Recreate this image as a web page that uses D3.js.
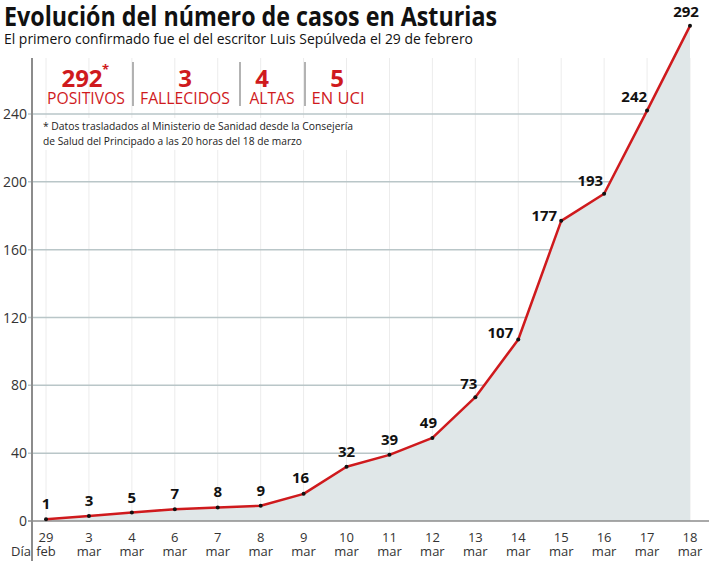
<!DOCTYPE html>
<html>
<head>
<meta charset="utf-8">
<script src="https://cdn.jsdelivr.net/npm/d3@7"></script>
<style>
  body { margin: 0; background: #fff; }
  text { font-family: "Open Sans", "Noto Sans", sans-serif; }
</style>
</head>
<body>
<script>
// data
days = ["29", "3", "4", "6", "7", "8", "9", "10", "11", "12", "13", "14", "15", "16", "17", "18"]
months = ["feb", "mar", "mar", "mar", "mar", "mar", "mar", "mar", "mar", "mar", "mar", "mar", "mar", "mar", "mar", "mar"]
cases = [1, 3, 5, 7, 8, 9, 16, 32, 39, 49, 73, 107, 177, 193, 242, 292]
yTicks = [0, 40, 80, 120, 160, 200, 240]
statNums = ["292", "3", "4", "5"]
statLabels = ["POSITIVOS", "FALLECIDOS", "ALTAS", "EN UCI"]

// label placement (style only): anchor + small offsets
labelPos = cases.map(function(d, i) {
    if (i == 10) return {a: "end", dx: 2, dy: -8}
    if (i == 11) return {a: "end", dx: -5, dy: -2}
    if (i == 12) return {a: "end", dx: -4, dy: 0}
    if (i == 13) return {a: "end", dx: -1, dy: -8}
    if (i == 14) return {a: "end", dx: 0, dy: -9}
    if (i == 15) return {a: "middle", dx: -4, dy: -9}
    if (i == 9) return {a: "middle", dx: -4, dy: -10}
    if (i == 6) return {a: "middle", dx: -3, dy: -11}
    return {a: "middle", dx: 0, dy: -10}
})

width = 709
height = 561
red = "#cf1a1d"

svg = d3.select("body")
    .append("svg")
    .attr("width", width)
    .attr("height", height)

x = d3.scalePoint()
    .domain(d3.range(cases.length))
    .range([46, 690])

y = d3.scaleLinear()
    .domain([0, 240])
    .range([521, 114])

axisX = 32
topY = 58

// faint vertical gridlines
svg.selectAll("empty")
    .data(d3.range(cases.length))
    .enter()
    .append("line")
    .attr("x1", d => x(d))
    .attr("x2", d => x(d))
    .attr("y1", topY)
    .attr("y2", y(0))
    .attr("stroke", "#ececec")
    .attr("stroke-width", 1)

// horizontal gridlines
svg.selectAll("empty")
    .data(yTicks.slice(1))
    .enter()
    .append("line")
    .attr("x1", axisX - 4)
    .attr("x2", x(cases.length - 1))
    .attr("y1", d => y(d))
    .attr("y2", d => y(d))
    .attr("stroke", "#b9c6c8")
    .attr("stroke-width", 1.5)

// area under the curve
area = d3.area()
    .x((d, i) => x(i))
    .y0(y(0))
    .y1(d => y(d))

svg.append("path")
    .datum(cases)
    .attr("d", area)
    .attr("fill", "#e0e7e8")

// axes
svg.append("line")
    .attr("x1", axisX)
    .attr("x2", width)
    .attr("y1", y(0))
    .attr("y2", y(0))
    .attr("stroke", "#8c8c8c")
    .attr("stroke-width", 1.5)
svg.append("line")
    .attr("x1", axisX)
    .attr("x2", axisX)
    .attr("y1", topY)
    .attr("y2", height)
    .attr("stroke", "#8c8c8c")
    .attr("stroke-width", 2)
svg.append("line")
    .attr("x1", axisX - 4)
    .attr("x2", axisX)
    .attr("y1", y(0))
    .attr("y2", y(0))
    .attr("stroke", "#8c8c8c")
    .attr("stroke-width", 1.5)

// y tick labels
svg.selectAll("empty")
    .data(yTicks)
    .enter()
    .append("text")
    .attr("x", 27)
    .attr("y", d => y(d) + 5)
    .attr("text-anchor", "end")
    .attr("font-size", 14)
    .attr("fill", "#333")
    .text(d => d)

// x tick labels (two lines)
svg.selectAll("empty")
    .data(days)
    .enter()
    .append("text")
    .attr("x", (d, i) => x(i))
    .attr("y", 542)
    .attr("text-anchor", "middle")
    .attr("font-size", 13)
    .attr("fill", "#333")
    .text(d => d)
svg.selectAll("empty")
    .data(months)
    .enter()
    .append("text")
    .attr("x", (d, i) => x(i))
    .attr("y", 556)
    .attr("text-anchor", "middle")
    .attr("font-size", 13)
    .attr("fill", "#333")
    .text(d => d)
svg.append("text")
    .attr("x", 11)
    .attr("y", 556)
    .attr("font-size", 13)
    .attr("fill", "#333")
    .text("Día")

// the line
line = d3.line()
    .x((d, i) => x(i))
    .y(d => y(d))

svg.append("path")
    .datum(cases)
    .attr("d", line)
    .attr("fill", "none")
    .attr("stroke", red)
    .attr("stroke-width", 2.5)
    .attr("stroke-linejoin", "round")

svg.selectAll("empty")
    .data(cases)
    .enter()
    .append("circle")
    .attr("cx", (d, i) => x(i))
    .attr("cy", d => y(d))
    .attr("r", 2)
    .attr("fill", "#111")

// value labels
svg.selectAll("empty")
    .data(cases)
    .enter()
    .append("text")
    .attr("x", (d, i) => x(i) + labelPos[i].dx)
    .attr("y", (d, i) => y(d) + labelPos[i].dy)
    .attr("text-anchor", (d, i) => labelPos[i].a)
    .attr("font-size", 15)
    .attr("font-weight", "bold")
    .attr("fill", "#111")
    .text(d => d)

// title and subtitle
svg.append("text")
    .attr("x", 4)
    .attr("y", 26)
    .attr("font-size", 26)
    .attr("font-weight", "bold")
    .attr("fill", "#111")
    .attr("textLength", 493)
    .attr("lengthAdjust", "spacingAndGlyphs")
    .text("Evolución del número de casos en Asturias")
svg.append("text")
    .attr("x", 4)
    .attr("y", 44)
    .attr("font-size", 14)
    .attr("fill", "#111")
    .attr("textLength", 469)
    .attr("lengthAdjust", "spacingAndGlyphs")
    .text("El primero confirmado fue el del escritor Luis Sepúlveda el 29 de febrero")

// stats box
statX = [82, 185, 262, 337]
labelX = [86, 185, 272, 338]
labelW = [78, 90, 45, 53]
sepX = [133, 240, 305]

svg.selectAll("empty")
    .data(sepX)
    .enter()
    .append("line")
    .attr("x1", d => d)
    .attr("x2", d => d)
    .attr("y1", 62)
    .attr("y2", 106)
    .attr("stroke", "#9a9a9a")
    .attr("stroke-width", 1.5)

svg.selectAll("empty")
    .data(statNums)
    .enter()
    .append("text")
    .attr("x", (d, i) => statX[i])
    .attr("y", 87)
    .attr("text-anchor", "middle")
    .attr("font-size", 24)
    .attr("font-weight", "bold")
    .attr("fill", red)
    .text(d => d)
svg.append("text")
    .attr("x", 102)
    .attr("y", 74)
    .attr("font-size", 13)
    .attr("font-weight", "bold")
    .attr("fill", red)
    .text("*")

svg.selectAll("empty")
    .data(statLabels)
    .enter()
    .append("text")
    .attr("x", (d, i) => labelX[i])
    .attr("y", 104)
    .attr("text-anchor", "middle")
    .attr("font-size", 16)
    .attr("fill", red)
    .attr("textLength", (d, i) => labelW[i])
    .attr("lengthAdjust", "spacingAndGlyphs")
    .text(d => d)

// footnote
svg.append("rect")
    .attr("x", 40)
    .attr("y", 118)
    .attr("width", 318)
    .attr("height", 32)
    .attr("fill", "#fff")
svg.append("text")
    .attr("x", 43)
    .attr("y", 130)
    .attr("font-size", 11.5)
    .attr("fill", "#222")
    .attr("textLength", 310)
    .attr("lengthAdjust", "spacingAndGlyphs")
    .text("* Datos trasladados al Ministerio de Sanidad desde la Consejería")
svg.append("text")
    .attr("x", 43)
    .attr("y", 145)
    .attr("font-size", 11.5)
    .attr("fill", "#222")
    .attr("textLength", 259)
    .attr("lengthAdjust", "spacingAndGlyphs")
    .text("de Salud del Principado a las 20 horas del 18 de marzo")
</script>
</body>
</html>
